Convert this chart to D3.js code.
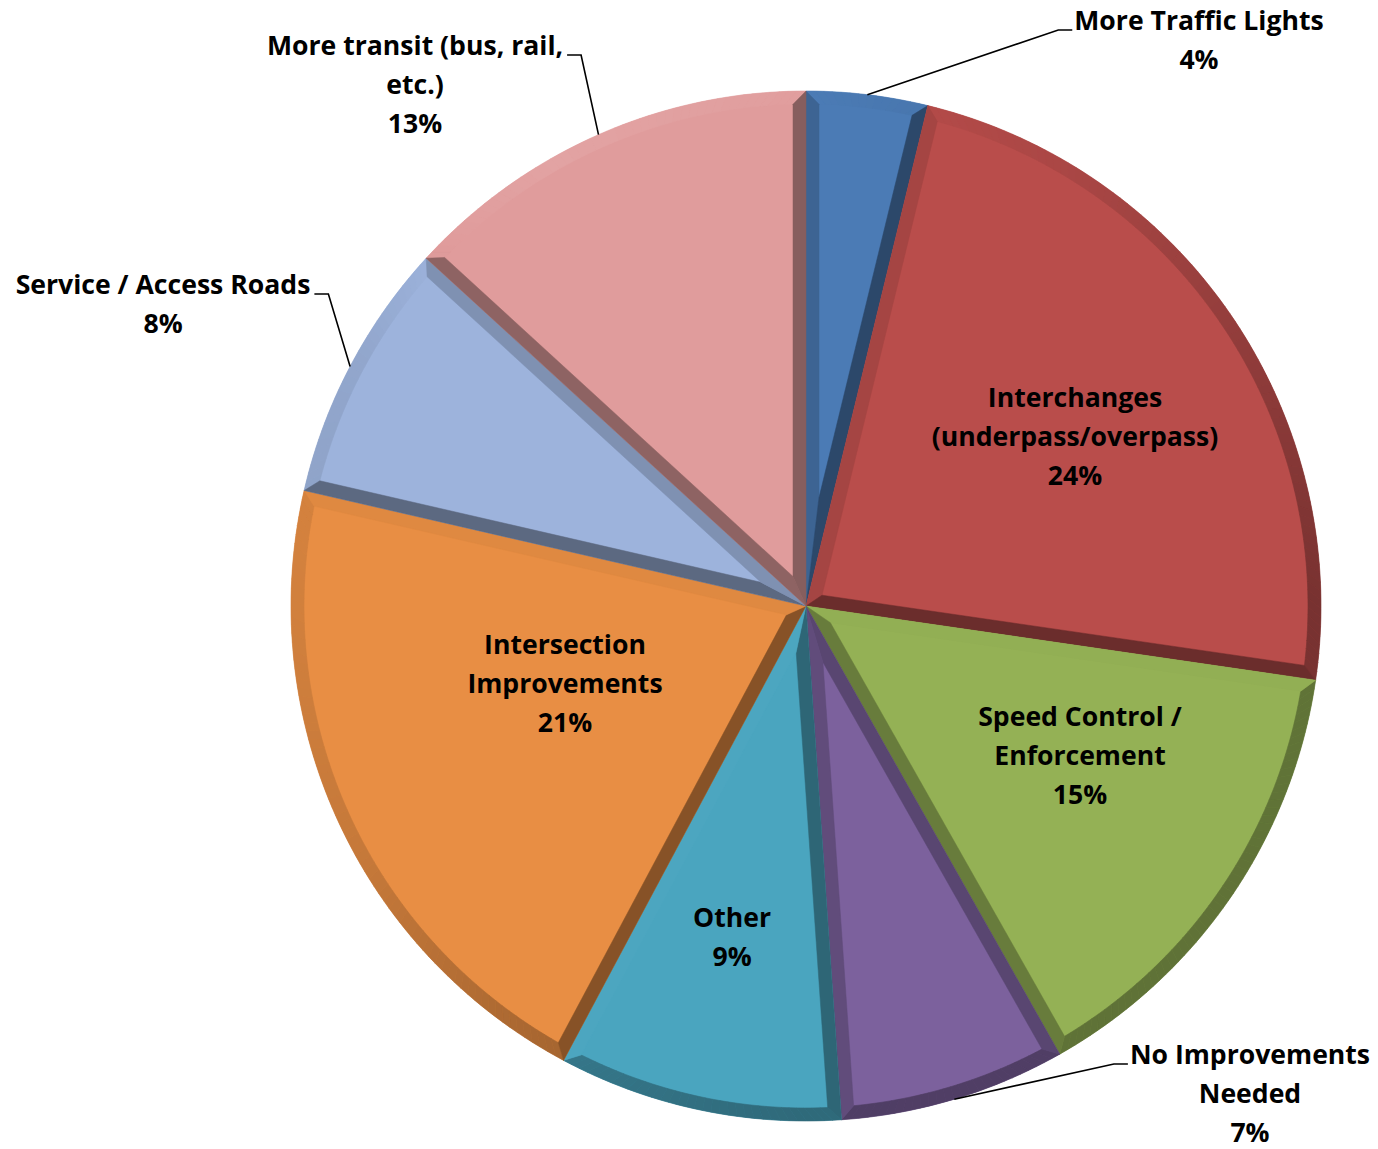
<!DOCTYPE html>
<html>
<head>
<meta charset="utf-8">
<script src="https://cdn.jsdelivr.net/npm/d3@7"></script>
<style>
  html, body { margin: 0; padding: 0; background: #ffffff; }
  svg { display: block; }
  text { font-family: "Open Sans", Lato, "DejaVu Sans", sans-serif; font-weight: 700; fill: #000; }
</style>
</head>
<body>
<svg id="chart" width="1378" height="1149"></svg>
<script>
// ---------------- data ----------------
const categories = [
  "More Traffic Lights",
  "Interchanges (underpass/overpass)",
  "Speed Control / Enforcement",
  "No Improvements Needed",
  "Other",
  "Intersection Improvements",
  "Service / Access Roads",
  "More transit (bus, rail, etc.)"
];
const shares = [3.8, 23.5, 14.5, 7.1, 8.9, 20.8, 8.2, 13.2];   // percent
const labelLines = [
  ["More Traffic Lights"],
  ["Interchanges", "(underpass/overpass)"],
  ["Speed Control /", "Enforcement"],
  ["No Improvements", "Needed"],
  ["Other"],
  ["Intersection", "Improvements"],
  ["Service / Access Roads"],
  ["More transit (bus, rail,", "etc.)"]
];

// ---------------- style / layout ----------------
const colors = ["#4b7bb5", "#b94d4b", "#94b155", "#7c619d", "#4aa5bf", "#e88e44", "#9db3dc", "#e09c9c"];
const cx = 806, cy = 606, R = 515;
const bevel = 13;
const fontSize = 26.6, lineH = 39;
// first-line centre of each label, relative to pie centre; side of leader attachment
const labelLayout = [
  { dx: 393,  dy: -586, leader: "left" },
  { dx: 269,  dy: -209 },
  { dx: 274,  dy: 110 },
  { dx: 444,  dy: 448,  leader: "left" },
  { dx: -74,  dy: 311 },
  { dx: -241, dy: 38 },
  { dx: -643, dy: -322, leader: "right" },
  { dx: -391, dy: -561, leader: "right" }
];
// bevel darkness vs. outward normal direction (degrees clockwise from up)
const edgeShade = [[0, -0.03], [40, 0.18], [60, 0.28], [90, 0.40], [110, 0.42], [190, 0.42],
                   [225, 0.36], [245, 0.28], [265, 0.22], [285, 0.10], [300, -0.03], [360, -0.03]];
const rimShade  = [[0, 0.0], [30, 0.08], [60, 0.22], [90, 0.35], [180, 0.36], [210, 0.28],
                   [240, 0.15], [270, 0.10], [300, 0.07], [330, -0.07], [360, -0.02]];

const svg = d3.select("#chart");
const g = svg.append("g").attr("transform", `translate(${cx},${cy})`);

const pie = d3.pie().sort(null).value(d => d).startAngle(0).endAngle(2 * Math.PI);
const arcs = pie(shares);
const arcGen = d3.arc().innerRadius(0).outerRadius(R);

const polar = (a, r) => [r * Math.sin(a), -r * Math.cos(a)];
const deg = Math.PI / 180;

function lookup(table, a) {
  let nd = ((a / deg) % 360 + 360) % 360;
  for (let k = 0; k < table.length - 1; k++) {
    const [x0, y0] = table[k], [x1, y1] = table[k + 1];
    if (nd >= x0 && nd <= x1) return y0 + (y1 - y0) * (nd - x0) / (x1 - x0);
  }
  return 0;
}
function tint(base, d) {
  return d >= 0 ? d3.interpolateRgb(base, "#000")(d) : d3.interpolateRgb(base, "#fff")(-d);
}

const line = d3.line();

arcs.forEach((d, i) => {
  const base = colors[i];
  const sg = g.append("g").attr("class", "slice");
  sg.append("path").attr("d", arcGen(d)).attr("fill", base);

  const a0 = d.startAngle, a1 = d.endAngle, th = a1 - a0;
  const Ri = R - bevel;
  const V = polar((a0 + a1) / 2, bevel / Math.sin(th / 2));
  const off = Math.asin(bevel / Ri);
  const q0 = a0 + off, q1 = a1 - off;

  // outer rim band, split in small pieces for shading
  const N = Math.max(2, Math.ceil(th / (1 * deg)));
  for (let k = 0; k < N; k++) {
    const t0 = a0 + th * k / N, t1 = a0 + th * (k + 1) / N;
    const u0 = q0 + (q1 - q0) * k / N, u1 = q0 + (q1 - q0) * (k + 1) / N;
    const col = tint(base, lookup(rimShade, (t0 + t1) / 2));
    sg.append("path")
      .attr("d", line([polar(t0, R), polar(t1, R), polar(u1, Ri), polar(u0, Ri)]) + "Z")
      .attr("fill", col).attr("stroke", col).attr("stroke-width", 0.6);
  }

  // radial edge bands
  const c0 = tint(base, lookup(edgeShade, a0 - Math.PI / 2));
  sg.append("path")
    .attr("d", line([[0, 0], polar(a0, R), polar(q0, Ri), V]) + "Z")
    .attr("fill", c0).attr("stroke", c0).attr("stroke-width", 0.5);
  const c1 = tint(base, lookup(edgeShade, a1 + Math.PI / 2));
  sg.append("path")
    .attr("d", line([[0, 0], V, polar(q1, Ri), polar(a1, R)]) + "Z")
    .attr("fill", c1).attr("stroke", c1).attr("stroke-width", 0.5);
});

// ---------------- labels ----------------
const pctFmt = v => Math.round(v) + "%";
arcs.forEach((d, i) => {
  const lay = labelLayout[i];
  const lines = labelLines[i].concat([pctFmt(shares[i])]);
  const tg = g.append("g").attr("class", "label");
  const texts = lines.map((s, k) =>
    tg.append("text")
      .attr("x", lay.dx)
      .attr("y", lay.dy + k * lineH + 10)
      .attr("text-anchor", "middle")
      .attr("font-size", fontSize)
      .text(s)
  );
  if (lay.leader) {
    const bb = texts[0].node().getBBox();
    const yL = lay.dy + 10;
    const mid = (d.startAngle + d.endAngle) / 2;
    const p = polar(mid, R);
    let pts;
    if (lay.leader === "left") {
      const xe = bb.x - 2;
      pts = [[xe, yL], [xe - 14, yL], p];
    } else {
      const xe = bb.x + bb.width + 4;
      pts = [[xe, yL], [xe + 14, yL], p];
    }
    g.append("path").attr("d", line(pts))
      .attr("fill", "none").attr("stroke", "#000").attr("stroke-width", 1.6);
  }
});
</script>
</body>
</html>
